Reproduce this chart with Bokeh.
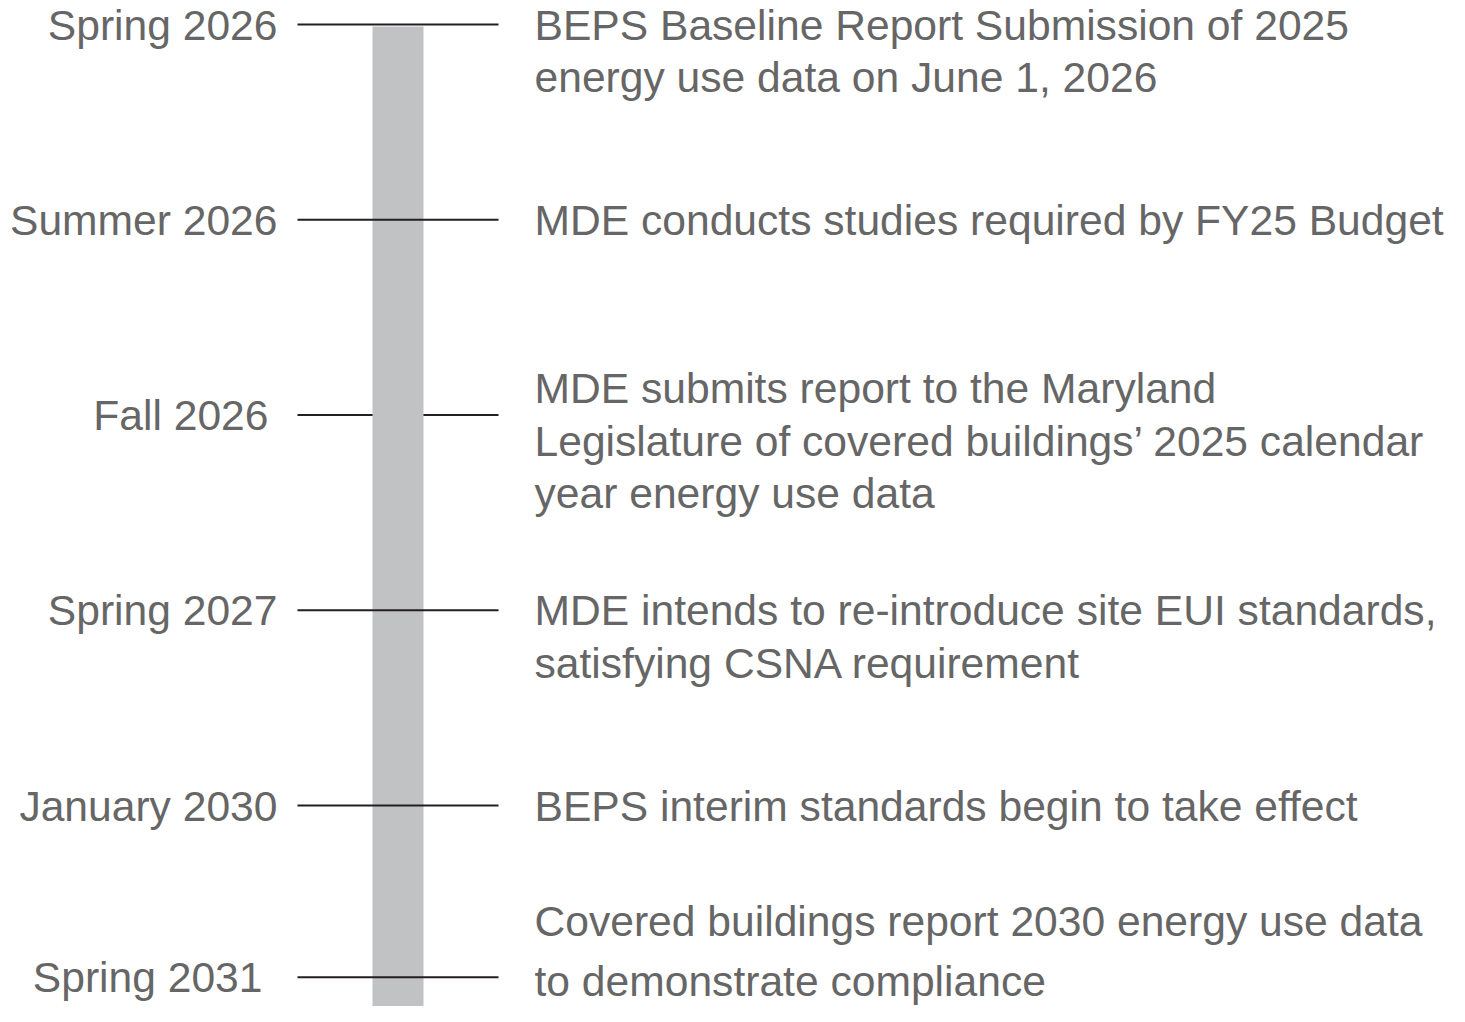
from bokeh.plotting import figure
from bokeh.models import Range1d, ColumnDataSource
from bokeh.core.properties import value
from bokeh.embed import file_html
from bokeh.resources import INLINE

# ---- data ----
periods = ["Spring 2026", "Summer 2026", "Fall 2026", "Spring 2027", "January 2030", "Spring 2031"]
events = [
    "BEPS Baseline Report Submission of 2025\nenergy use data on June 1, 2026",
    "MDE conducts studies required by FY25 Budget",
    "MDE submits report to the Maryland\nLegislature of covered buildings\u2019 2025 calendar\nyear energy use data",
    "MDE intends to re-introduce site EUI standards,\nsatisfying CSNA requirement",
    "BEPS interim standards begin to take effect",
    "Covered buildings report 2030 energy use data\nto demonstrate compliance",
]
slots = [0, 1, 2, 3, 4, 4.88]  # position of each milestone on the timeline

# ---- layout / style ----
W, H = 1449, 1006
PX_PER_SLOT = 195.25
TOP_PX = 24  # screen y of first milestone
FONT = value("Liberation Sans")
FS = 42.6
TEXT_COLOR = "#666666"
LINE_COLOR = "#231f20"
BAR_COLOR = "#c1c2c4"
BAR_L, BAR_R = 372, 423
TICK_L, TICK_R = 297, 498
DESC_X = 534
label_right = [277, 277, 268, 277, 277, 262]
first_line_shift = [0, 0, -27, 0, 0, -56]
line_gap_px = [52.5, 52.5, 52.5, 52.5, 52.5, 60]
line_over_bar = [True, True, False, True, True, True]

p = figure(width=W, height=H, output_backend="svg", toolbar_location=None,
           x_range=Range1d(0, W),
           y_range=Range1d((H - TOP_PX) / PX_PER_SLOT, (0 - TOP_PX) / PX_PER_SLOT),
           min_border=0, x_axis_location=None, y_axis_location=None)
p.xgrid.visible = False
p.ygrid.visible = False
p.outline_line_color = None
p.background_fill_color = "white"
p.border_fill_color = "white"

def draw_ticks(mask):
    ys = [s for s, m in zip(slots, line_over_bar) if m == mask]
    if ys:
        p.segment(x0=[TICK_L] * len(ys), x1=[TICK_R] * len(ys), y0=ys, y1=ys,
                  line_color=LINE_COLOR, line_width=2)

# ticks that sit behind the bar
draw_ticks(False)
# vertical bar
p.quad(left=[BAR_L], right=[BAR_R], top=[slots[0] + 2 / PX_PER_SLOT], bottom=[slots[-1] + 1.0],
       fill_color=BAR_COLOR, line_color=None)
# ticks drawn over the bar
draw_ticks(True)

# left labels
src_l = ColumnDataSource(dict(x=label_right, y=slots, text=periods))
p.text(x="x", y="y", text="text", source=src_l, text_font=FONT,
       text_font_size=f"{FS}px", text_color=TEXT_COLOR,
       text_align="right", text_baseline="middle")

# right descriptions, one glyph row per wrapped line
dx, dy, dt, doff = [], [], [], []
for s, ev, sh, gap in zip(slots, events, first_line_shift, line_gap_px):
    for i, line in enumerate(ev.split("\n")):
        dx.append(DESC_X)
        dy.append(s)
        dt.append(line)
        doff.append(sh + i * gap)
src_r = ColumnDataSource(dict(x=dx, y=dy, text=dt, off=doff))
p.text(x="x", y="y", text="text", y_offset="off", source=src_r, text_font=FONT,
       text_font_size=f"{FS}px", text_color=TEXT_COLOR,
       text_align="left", text_baseline="middle")

open("out.html", "w").write(file_html(p, INLINE))
